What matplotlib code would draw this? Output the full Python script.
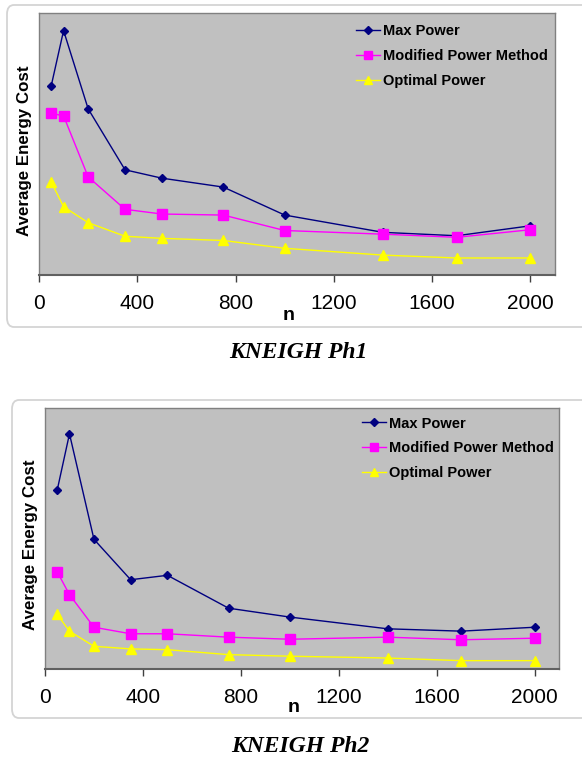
import matplotlib
matplotlib.use("Agg")
import matplotlib.pyplot as plt
from matplotlib.patches import FancyBboxPatch

n_values = [50, 100, 200, 350, 500, 750, 1000, 1400, 1700, 2000]
x_ticks = [0, 400, 800, 1200, 1600, 2000]
series_names = ["Max Power", "Modified Power Method", "Optimal Power"]

ph1_max = [72.4, 93.4, 63.5, 40.2, 37.0, 33.6, 22.9, 16.3, 15.0, 18.8]
ph1_mod = [61.8, 60.8, 37.5, 25.1, 23.3, 22.9, 17.0, 15.6, 14.4, 17.3]
ph1_opt = [35.5, 26.1, 20.0, 14.8, 14.0, 13.2, 10.2, 7.6, 6.5, 6.5]

ph2_max = [68.6, 90.1, 49.7, 34.2, 35.9, 23.3, 19.9, 15.4, 14.5, 16.0]
ph2_mod = [37.2, 28.5, 16.0, 13.5, 13.5, 12.2, 11.4, 12.2, 11.2, 11.8]
ph2_opt = [20.9, 14.5, 8.7, 7.7, 7.4, 5.5, 4.9, 4.2, 3.2, 3.2]

captions = ["KNEIGH Ph1", "KNEIGH Ph2"]
y_label = "Average Energy Cost"
x_label = "n"

W, H = 582, 760
fig = plt.figure(figsize=(W / 100, H / 100), dpi=100)
fig.patch.set_facecolor("white")

def fx(px):
    return px / W

def fy(py):
    return 1 - py / H

styles = [
    dict(color="#000080", marker="D", markersize=4.2, markerfacecolor="#000080",
         markeredgecolor="#000080", lw=1.0),
    dict(color="#FF00FF", marker="s", markersize=6.5, markerfacecolor="#FF00FF",
         markeredgecolor="#FF00FF", lw=1.0),
    dict(color="#FFFF00", marker="^", markersize=6.5, markerfacecolor="#FFFF00",
         markeredgecolor="#FFFF00", lw=1.0),
]

panels = [
    dict(border=(7, 5, 600, 327), axes=(39, 13.3, 555, 275),
         data=[ph1_max, ph1_mod, ph1_opt], ylab=(25, 151), xlab=(289, 315),
         cap=(298, 352), leg=(356, 30.6)),
    dict(border=(12, 400, 600, 718), axes=(45, 408, 559, 669),
         data=[ph2_max, ph2_mod, ph2_opt], ylab=(30.5, 545), xlab=(293.6, 707.5),
         cap=(300, 747), leg=(361.5, 423)),
]

for i, p in enumerate(panels):
    bx0, by0, bx1, by1 = p["border"]
    box = FancyBboxPatch((fx(bx0), fy(by1)), fx(bx1 - bx0), (by1 - by0) / H,
                         boxstyle="round,pad=0,rounding_size=0.012",
                         transform=fig.transFigure, facecolor="white",
                         edgecolor="#d4d4d4", lw=1.3, zorder=-10)
    fig.patches.append(box)

    ax0, ay0, ax1, ay1 = p["axes"]
    ax = fig.add_axes([fx(ax0), fy(ay1), fx(ax1 - ax0), (ay1 - ay0) / H])
    ax.set_zorder(1)
    ax.set_facecolor("#C0C0C0")
    for name, vals, st in zip(series_names, p["data"], styles):
        ax.plot(n_values, vals, label=name, **st)
    ax.set_xlim(0, 2100)
    ax.set_ylim(0, 100)
    ax.set_xticks(x_ticks)
    ax.set_xticklabels([str(t) for t in x_ticks], fontsize=15,
                       family=["Liberation Sans", "DejaVu Sans"])
    ax.set_yticks([])
    ax.tick_params(axis="x", direction="out", length=5, width=1,
                   color="#404040", pad=9)
    for side in ["top", "right", "left"]:
        ax.spines[side].set_color("#808080")
        ax.spines[side].set_linewidth(1.0)
    ax.spines["bottom"].set_color("#606060")
    ax.spines["bottom"].set_linewidth(1.5)

    lx, ly = p["leg"]
    bbox_x = (lx - ax0) / (ax1 - ax0)
    bbox_y = 1 - (ly - 6.5 - ay0) / (ay1 - ay0)
    leg = ax.legend(loc="upper left", bbox_to_anchor=(bbox_x, bbox_y),
                    frameon=False, handlelength=1.67, handletextpad=0.2,
                    labelspacing=0.74, borderpad=0, borderaxespad=0,
                    prop=dict(family=["Liberation Sans", "DejaVu Sans"],
                              weight="bold", size=10.5))
    for h in leg.legend_handles:
        h.set_markersize(h.get_markersize() * 0.9)

    fig.text(fx(p["ylab"][0]), fy(p["ylab"][1]), y_label, rotation=90,
             ha="center", va="center", fontsize=12.2, fontweight="bold",
             family=["Liberation Sans", "DejaVu Sans"])
    fig.text(fx(p["xlab"][0]), fy(p["xlab"][1]), x_label,
             ha="center", va="center", fontsize=14, fontweight="bold",
             family=["Liberation Sans", "DejaVu Sans"])
    fig.text(fx(p["cap"][0]), fy(p["cap"][1]), captions[i],
             ha="center", va="center", fontsize=17, fontweight="bold",
             fontstyle="italic", family=["Liberation Serif", "DejaVu Serif"])

fig.savefig("out.png", dpi=100, facecolor="white")
